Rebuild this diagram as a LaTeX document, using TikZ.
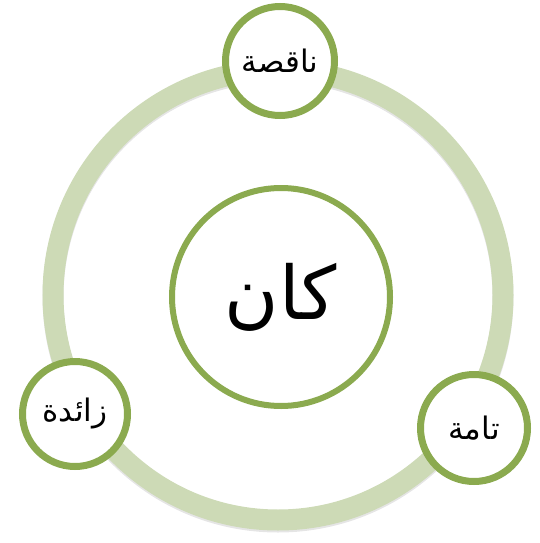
\documentclass[tikz,border=0pt]{standalone}
\usepackage{fontspec}
\newfontfamily\arabicfont[Script=Arabic]{DejaVu Sans}
\TeXXeTstate=1
\usepackage{xcolor}
\usepackage{tikz}
\usetikzlibrary{calc}
\definecolor{ringgreen}{RGB}{205,218,182}
\definecolor{edgegreen}{RGB}{139,170,79}
\tikzset{
  hubcircle/.style={
    circle, draw=edgegreen, line width=6pt, fill=white,
    minimum size=218pt, inner sep=0pt,
    font=\arabicfont\fontsize{74}{80}\selectfont
  },
  leafcircle/.style={
    circle, draw=edgegreen, line width=7pt, fill=white,
    inner sep=0pt, font=\arabicfont\fontsize{31}{34}\selectfont
  },
  ringline/.style={draw=ringgreen, line width=21pt},
  ringshade/.style={draw=black, opacity=0.10, line width=21pt},
}

\begin{document}
\begin{tikzpicture}[x=1pt, y=-1pt]
  \useasboundingbox (0,0) rectangle (539,543);

  % ring
  \coordinate (ringc) at (278,295);
  \draw[ringshade] ($(ringc)+(0,2)$) circle[radius=225pt];
  \draw[ringline] (ringc) circle[radius=225pt];

  % hub
  \node[hubcircle] (kan) at (281,297) {\beginR كان\endR};

  % leaves
  \node[leafcircle, minimum size=109pt] (naqisa) at (280,61) {\beginR ناقصة\endR};
  \node[leafcircle, minimum size=105pt] (zaida) at (75,414) {\beginR زائدة\endR};
  \node[leafcircle, minimum size=107pt] (tamma) at (474,428) {\beginR تامة\endR};
\end{tikzpicture}
\end{document}
